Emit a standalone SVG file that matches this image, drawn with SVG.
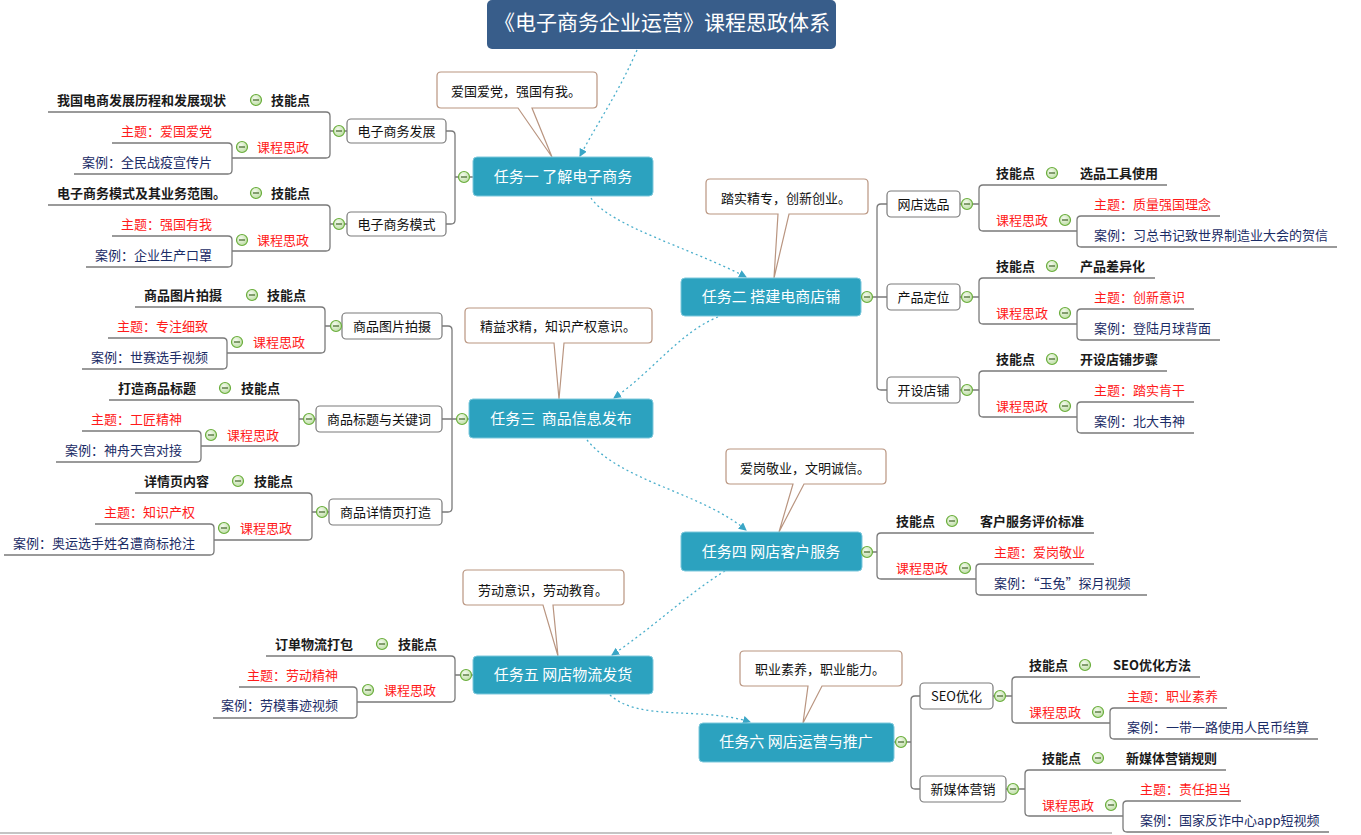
<svg xmlns="http://www.w3.org/2000/svg" xmlns:xlink="http://www.w3.org/1999/xlink" width="1361" height="835" viewBox="0 0 1361 835">
<style>
text{font-family:"Noto Sans CJK SC","Liberation Sans",sans-serif;font-size:13px}
.sk{font-weight:bold;fill:#1a1a1a}
.cs{fill:#ff1a1a}
.th{fill:#ff1a1a}
.ca{fill:#1b2c66}
.bx{fill:#fff;stroke:#7a7a7a;stroke-width:1.2}
.bt{fill:#111;text-anchor:middle}
.tk{fill:#2ca2bf;stroke:#7cc8dc;stroke-width:1}
.tt{fill:#fff;font-size:15px;text-anchor:middle;white-space:pre}
.co{fill:#fff;stroke:#b99580;stroke-width:1.2}
.ct{fill:#111}
.br{fill:none;stroke:#7a7a7a;stroke-width:1.3}
.dt{fill:none;stroke:#4aaecb;stroke-width:1.3;stroke-dasharray:2 3;marker-end:url(#ah)}
.end{text-anchor:end}
</style>
<defs>
<radialGradient id="cg" cx="0.4" cy="0.35" r="0.7">
<stop offset="0" stop-color="#f4faee"/>
<stop offset="1" stop-color="#bcdca2"/>
</radialGradient>
<g id="col">
<circle r="5.5" fill="url(#cg)" stroke="#6aae3c" stroke-width="1.2"/>
<line x1="-3" y1="0" x2="3" y2="0" stroke="#4c6e34" stroke-width="1.3"/>
</g>
<marker id="ah" viewBox="0 0 8 8" refX="7" refY="4" markerWidth="8" markerHeight="8" markerUnits="userSpaceOnUse" orient="auto">
<path d="M0 0 L8 4 L0 8 Z" fill="#3aa6c6"/>
</marker>
</defs>
<rect width="1361" height="835" fill="#fff"/>
<line x1="0" y1="833" x2="1112" y2="833" stroke="#c4c4c4" stroke-width="2"/>

<g id="connectors">
<!-- dotted relationships -->
<path class="dt" d="M637 50 C620 90 598 122 580 156"/>
<path class="dt" d="M591 198 C610 226 690 248 746 277"/>
<path class="dt" d="M718 317 C680 332 652 372 614 398"/>
<path class="dt" d="M587 440 C622 482 700 492 746 530"/>
<path class="dt" d="M725 571 C690 592 650 630 612 655"/>
<path class="dt" d="M610 695 C640 722 700 706 750 722"/>
<!-- task 1 -->
<path class="br" d="M446 131 H451 Q455 131 455 135 V220 Q455 224 451 224 H446 M455 177 H473"/>
<path class="br" d="M330 131 H347 M48 112 H326 Q330 112 330 116 V154 Q330 158 326 158 H232 M112 143 H228 Q232 143 232 147 V170 Q232 174 228 174 H74"/>
<path class="br" d="M330 224 H347 M48 205 H326 Q330 205 330 209 V247 Q330 251 326 251 H232 M112 236 H228 Q232 236 232 240 V263 Q232 267 228 267 H86"/>
<!-- task 3 -->
<path class="br" d="M442 326 H448 Q452 326 452 330 V508 Q452 512 448 512 H442 M442 419 H469"/>
<path class="br" d="M325 326 H342 M135 307 H321 Q325 307 325 311 V349 Q325 353 321 353 H227 M108 338 H223 Q227 338 227 342 V365 Q227 369 223 369 H82"/>
<path class="br" d="M299 419 H316 M109 400 H295 Q299 400 299 404 V442 Q299 446 295 446 H201 M82 431 H197 Q201 431 201 435 V458 Q201 462 197 462 H56"/>
<path class="br" d="M312 512 H329 M135 493 H308 Q312 493 312 497 V536 Q312 540 308 540 H214 M95 524 H210 Q214 524 214 528 V551 Q214 555 210 555 H4"/>
<!-- task 2 -->
<path class="br" d="M861 297 H887 M887 204 H881 Q877 204 877 208 V386 Q877 390 881 390 H887"/>
<path class="br" d="M960 204 H979 M1167 185 H983 Q979 185 979 189 V227 Q979 231 983 231 H1077 M1220 216 H1081 Q1077 216 1077 220 V243 Q1077 247 1081 247 H1337"/>
<path class="br" d="M960 297 H979 M1155 278 H983 Q979 278 979 282 V320 Q979 324 983 324 H1077 M1194 309 H1081 Q1077 309 1077 313 V336 Q1077 340 1081 340 H1220"/>
<path class="br" d="M960 390 H979 M1167 371 H983 Q979 371 979 375 V413 Q979 417 983 417 H1077 M1194 402 H1081 Q1077 402 1077 406 V429 Q1077 433 1081 433 H1194"/>
<!-- task 4 -->
<path class="br" d="M862 552 H877 M1094 533 H881 Q877 533 877 537 V575 Q877 579 881 579 H976 M1094 564 H980 Q976 564 976 568 V591 Q976 595 980 595 H1147"/>
<!-- task 5 -->
<path class="br" d="M455 675 H473 M266 656 H451 Q455 656 455 660 V698 Q455 702 451 702 H357 M239 687 H353 Q357 687 357 691 V714 Q357 718 353 718 H213"/>
<!-- task 6 -->
<path class="br" d="M894 742 H911 M920 696 H915 Q911 696 911 700 V785 Q911 789 915 789 H920"/>
<path class="br" d="M993 696 H1012 M1200 677 H1016 Q1012 677 1012 681 V719 Q1012 723 1016 723 H1110 M1227 708 H1114 Q1110 708 1110 712 V735 Q1110 739 1114 739 H1318"/>
<path class="br" d="M1006 789 H1025 M1226 770 H1029 Q1025 770 1025 774 V812 Q1025 816 1029 816 H1123 M1241 801 H1127 Q1123 801 1123 805 V828 Q1123 832 1127 832 H1329"/>
</g>

<g id="title">
<rect x="487" y="0" width="349" height="49" rx="5" fill="#385d8a"/>
<text x="662" y="30" fill="#fff" font-size="21" text-anchor="middle" style="font-size:21px">《电子商务企业运营》课程思政体系</text>
</g>

<!-- callouts -->
<g id="callout1"><path class="co" d="M441 72 H593 Q597 72 597 76 V104 Q597 108 593 108 H532 L552 157 L518 108 H441 Q437 108 437 104 V76 Q437 72 441 72 Z"/><text class="ct" x="451" y="96">爱国爱党，强国有我。</text></g>
<g id="callout2"><path class="co" d="M710 179 H864 Q868 179 868 183 V210 Q868 214 864 214 H789 L774 278 L778 214 H710 Q706 214 706 210 V183 Q706 179 710 179 Z"/><text class="ct" x="721" y="203">踏实精专，创新创业。</text></g>
<g id="callout3"><path class="co" d="M469 308 H648 Q652 308 652 312 V339 Q652 343 648 343 H564 L559 399 L554 343 H469 Q465 343 465 339 V312 Q465 308 469 308 Z"/><text class="ct" x="480" y="331">精益求精，知识产权意识。</text></g>
<g id="callout4"><path class="co" d="M730 449 H882 Q886 449 886 453 V480 Q886 484 882 484 H804 L779 532 L793 484 H730 Q726 484 726 480 V453 Q726 449 730 449 Z"/><text class="ct" x="740" y="473">爱岗敬业，文明诚信。</text></g>
<g id="callout5"><path class="co" d="M467 570 H620 Q624 570 624 574 V601 Q624 605 620 605 H553 L558 656 L543 605 H467 Q463 605 463 601 V574 Q463 570 467 570 Z"/><text class="ct" x="478" y="595">劳动意识，劳动教育。</text></g>
<g id="callout6"><path class="co" d="M744 651 H898 Q902 651 902 655 V682 Q902 686 898 686 H822 L803 723 L808 686 H744 Q740 686 740 682 V655 Q740 651 744 651 Z"/><text class="ct" x="755" y="674">职业素养，职业能力。</text></g>

<!-- tasks -->
<g id="task1"><rect class="tk" x="473" y="157" width="180" height="39" rx="4"/><text class="tt" x="563" y="182">任务一 了解电子商务</text><use xlink:href="#col" x="464" y="177"/></g>
<g id="task2"><rect class="tk" x="681" y="278" width="180" height="38" rx="4"/><text class="tt" x="771" y="302">任务二 搭建电商店铺</text><use xlink:href="#col" x="867" y="297"/></g>
<g id="task3"><rect class="tk" x="469" y="399" width="184" height="39" rx="4"/><text class="tt" x="561" y="424">任务三  商品信息发布</text><use xlink:href="#col" x="462" y="419"/></g>
<g id="task4"><rect class="tk" x="681" y="532" width="181" height="39" rx="4"/><text class="tt" x="771" y="557">任务四 网店客户服务</text><use xlink:href="#col" x="867" y="552"/></g>
<g id="task5"><rect class="tk" x="473" y="656" width="180" height="38" rx="4"/><text class="tt" x="563" y="680">任务五 网店物流发货</text><use xlink:href="#col" x="466" y="675"/></g>
<g id="task6"><rect class="tk" x="699" y="723" width="195" height="39" rx="4"/><text class="tt" x="796" y="747">任务六 网店运营与推广</text><use xlink:href="#col" x="901" y="742"/></g>

<!-- sub boxes -->
<g id="s1a"><rect class="bx" x="347" y="119" width="99" height="24" rx="4"/><text class="bt" x="396.5" y="136">电子商务发展</text><use xlink:href="#col" x="339" y="131"/></g>
<g id="s1b"><rect class="bx" x="347" y="212" width="99" height="24" rx="4"/><text class="bt" x="396.5" y="229">电子商务模式</text><use xlink:href="#col" x="339" y="224"/></g>
<g id="s3a"><rect class="bx" x="342" y="313" width="100" height="26" rx="4"/><text class="bt" x="392" y="331">商品图片拍摄</text><use xlink:href="#col" x="336" y="326"/></g>
<g id="s3b"><rect class="bx" x="316" y="406" width="126" height="26" rx="4"/><text class="bt" x="379" y="424">商品标题与关键词</text><use xlink:href="#col" x="309" y="419"/></g>
<g id="s3c"><rect class="bx" x="329" y="499" width="113" height="26" rx="4"/><text class="bt" x="385.5" y="517">商品详情页打造</text><use xlink:href="#col" x="322" y="512"/></g>
<g id="s2a"><rect class="bx" x="887" y="191" width="73" height="26" rx="4"/><text class="bt" x="923.5" y="209">网店选品</text><use xlink:href="#col" x="967" y="204"/></g>
<g id="s2b"><rect class="bx" x="887" y="284" width="73" height="26" rx="4"/><text class="bt" x="923.5" y="302">产品定位</text><use xlink:href="#col" x="967" y="297"/></g>
<g id="s2c"><rect class="bx" x="887" y="377" width="73" height="26" rx="4"/><text class="bt" x="923.5" y="395">开设店铺</text><use xlink:href="#col" x="967" y="390"/></g>
<g id="s6a"><rect class="bx" x="920" y="683" width="73" height="26" rx="4"/><text class="bt" x="956.5" y="701">SEO优化</text><use xlink:href="#col" x="1000" y="696"/></g>
<g id="s6b"><rect class="bx" x="920" y="776" width="86" height="26" rx="4"/><text class="bt" x="963" y="794">新媒体营销</text><use xlink:href="#col" x="1013" y="789"/></g>

<!-- task 1 leaves -->
<g id="l1a1"><text class="sk" x="57" y="105">我国电商发展历程和发展现状</text></g>
<g id="l1a2"><text class="sk" x="271" y="105">技能点</text><use xlink:href="#col" x="256" y="100"/></g>
<g id="l1a3"><text class="th end" x="212" y="136">主题：爱国爱党</text></g>
<g id="l1a4"><text class="cs" x="257" y="152">课程思政</text><use xlink:href="#col" x="242" y="147"/></g>
<g id="l1a5"><text class="ca end" x="212" y="167">案例：全民战疫宣传片</text></g>
<g id="l1b1"><text class="sk" x="57" y="198">电子商务模式及其业务范围。</text></g>
<g id="l1b2"><text class="sk" x="271" y="198">技能点</text><use xlink:href="#col" x="256" y="193"/></g>
<g id="l1b3"><text class="th end" x="212" y="229">主题：强国有我</text></g>
<g id="l1b4"><text class="cs" x="257" y="245">课程思政</text><use xlink:href="#col" x="242" y="240"/></g>
<g id="l1b5"><text class="ca end" x="212" y="260">案例：企业生产口罩</text></g>

<!-- task 3 leaves -->
<g id="l3a1"><text class="sk" x="144" y="300">商品图片拍摄</text></g>
<g id="l3a2"><text class="sk" x="267" y="300">技能点</text><use xlink:href="#col" x="252" y="295"/></g>
<g id="l3a3"><text class="th end" x="208" y="331">主题：专注细致</text></g>
<g id="l3a4"><text class="cs" x="253" y="347">课程思政</text><use xlink:href="#col" x="237" y="342"/></g>
<g id="l3a5"><text class="ca end" x="208" y="362">案例：世赛选手视频</text></g>
<g id="l3b1"><text class="sk" x="118" y="393">打造商品标题</text></g>
<g id="l3b2"><text class="sk" x="241" y="393">技能点</text><use xlink:href="#col" x="225" y="388"/></g>
<g id="l3b3"><text class="th end" x="182" y="424">主题：工匠精神</text></g>
<g id="l3b4"><text class="cs" x="227" y="440">课程思政</text><use xlink:href="#col" x="211" y="435"/></g>
<g id="l3b5"><text class="ca end" x="182" y="455">案例：神舟天宫对接</text></g>
<g id="l3c1"><text class="sk" x="144" y="486">详情页内容</text></g>
<g id="l3c2"><text class="sk" x="254" y="486">技能点</text><use xlink:href="#col" x="238" y="481"/></g>
<g id="l3c3"><text class="th end" x="195" y="517">主题：知识产权</text></g>
<g id="l3c4"><text class="cs" x="240" y="533">课程思政</text><use xlink:href="#col" x="224" y="528"/></g>
<g id="l3c5"><text class="ca end" x="195" y="548">案例：奥运选手姓名遭商标抢注</text></g>

<!-- task 2 leaves -->
<g id="l2a1"><text class="sk" x="996" y="178">技能点</text><use xlink:href="#col" x="1052" y="173"/></g>
<g id="l2a2"><text class="sk" x="1080" y="178">选品工具使用</text></g>
<g id="l2a3"><text class="cs" x="996" y="225">课程思政</text><use xlink:href="#col" x="1065" y="220"/></g>
<g id="l2a4"><text class="th" x="1094" y="209">主题：质量强国理念</text></g>
<g id="l2a5"><text class="ca" x="1094" y="240">案例：习总书记致世界制造业大会的贺信</text></g>
<g id="l2b1"><text class="sk" x="996" y="271">技能点</text><use xlink:href="#col" x="1052" y="266"/></g>
<g id="l2b2"><text class="sk" x="1080" y="271">产品差异化</text></g>
<g id="l2b3"><text class="cs" x="996" y="318">课程思政</text><use xlink:href="#col" x="1065" y="313"/></g>
<g id="l2b4"><text class="th" x="1094" y="302">主题：创新意识</text></g>
<g id="l2b5"><text class="ca" x="1094" y="333">案例：登陆月球背面</text></g>
<g id="l2c1"><text class="sk" x="996" y="364">技能点</text><use xlink:href="#col" x="1052" y="359"/></g>
<g id="l2c2"><text class="sk" x="1080" y="364">开设店铺步骤</text></g>
<g id="l2c3"><text class="cs" x="996" y="411">课程思政</text><use xlink:href="#col" x="1065" y="406"/></g>
<g id="l2c4"><text class="th" x="1094" y="395">主题：踏实肯干</text></g>
<g id="l2c5"><text class="ca" x="1094" y="426">案例：北大韦神</text></g>

<!-- task 4 leaves -->
<g id="l4a1"><text class="sk" x="896" y="526">技能点</text><use xlink:href="#col" x="952" y="521"/></g>
<g id="l4a2"><text class="sk" x="980" y="526">客户服务评价标准</text></g>
<g id="l4a3"><text class="cs" x="896" y="573">课程思政</text><use xlink:href="#col" x="965" y="568"/></g>
<g id="l4a4"><text class="th" x="994" y="557">主题：爱岗敬业</text></g>
<g id="l4a5"><text class="ca" x="994" y="588">案例：“玉兔”探月视频</text></g>

<!-- task 5 leaves -->
<g id="l5a1"><text class="sk" x="275" y="649">订单物流打包</text></g>
<g id="l5a2"><text class="sk" x="398" y="649">技能点</text><use xlink:href="#col" x="382" y="644"/></g>
<g id="l5a3"><text class="th end" x="338" y="680">主题：劳动精神</text></g>
<g id="l5a4"><text class="cs" x="384" y="695">课程思政</text><use xlink:href="#col" x="368" y="690"/></g>
<g id="l5a5"><text class="ca end" x="338" y="710">案例：劳模事迹视频</text></g>

<!-- task 6 leaves -->
<g id="l6a1"><text class="sk" x="1029" y="670">技能点</text><use xlink:href="#col" x="1085" y="665"/></g>
<g id="l6a2"><text class="sk" x="1113" y="670">SEO优化方法</text></g>
<g id="l6a3"><text class="cs" x="1029" y="717">课程思政</text><use xlink:href="#col" x="1098" y="712"/></g>
<g id="l6a4"><text class="th" x="1127" y="701">主题：职业素养</text></g>
<g id="l6a5"><text class="ca" x="1127" y="732">案例：一带一路使用人民币结算</text></g>
<g id="l6b1"><text class="sk" x="1042" y="763">技能点</text><use xlink:href="#col" x="1098" y="758"/></g>
<g id="l6b2"><text class="sk" x="1126" y="763">新媒体营销规则</text></g>
<g id="l6b3"><text class="cs" x="1042" y="810">课程思政</text><use xlink:href="#col" x="1111" y="805"/></g>
<g id="l6b4"><text class="th" x="1140" y="794">主题：责任担当</text></g>
<g id="l6b5"><text class="ca" x="1140" y="825">案例：国家反诈中心app短视频</text></g>
</svg>
